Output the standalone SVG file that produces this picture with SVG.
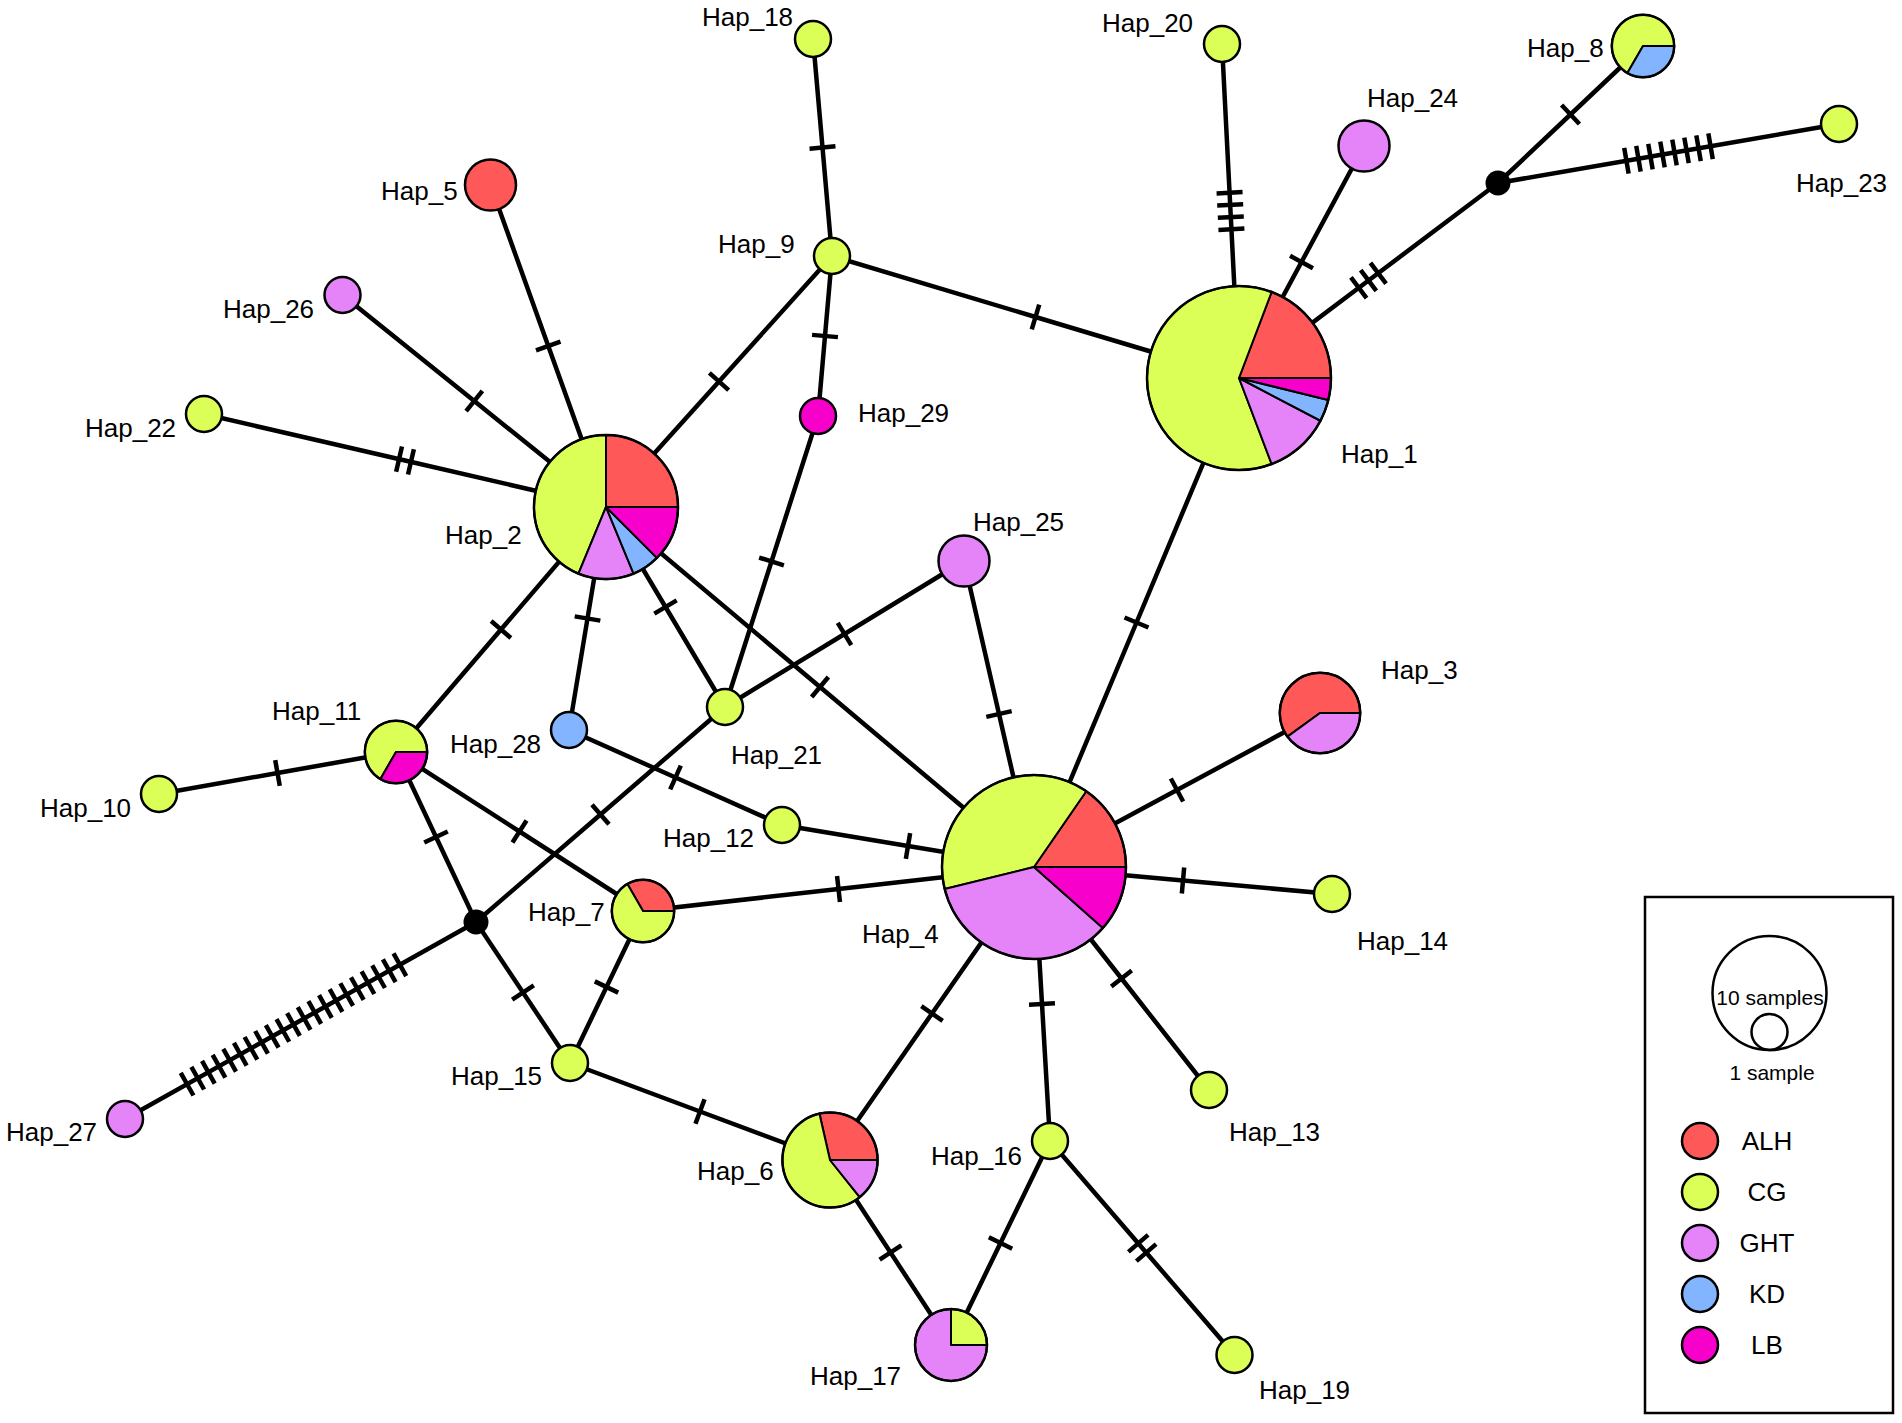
<svg xmlns="http://www.w3.org/2000/svg" width="1902" height="1423" viewBox="0 0 1902 1423">
<style>
.e{fill:none;stroke:#000;stroke-width:4.5;stroke-linecap:round}
.m1{marker-mid:url(#t1)}.m2{marker-mid:url(#t2)}.m3{marker-mid:url(#t3)}.m4{marker-mid:url(#t4)}.m8{marker-mid:url(#t8)}.m21{marker-mid:url(#t21)}
.n{stroke:#000;stroke-width:2.5}
.w{stroke:#000;stroke-width:2;stroke-linejoin:round}
.o{fill:none;stroke:#000;stroke-width:2.5}
.alh{fill:#FF5858}.cg{fill:#DCFF58}.ght{fill:#E484F8}.kd{fill:#82B4FF}.lb{fill:#F800CC}.mv{fill:#000}
.t{font-family:"Liberation Sans",Arial,sans-serif;font-size:26px;fill:#000}
.s{font-family:"Liberation Sans",Arial,sans-serif;font-size:21px;fill:#000;text-anchor:middle}
.lg{text-anchor:middle}
</style>
<defs>
<marker id="t1" markerUnits="userSpaceOnUse" viewBox="-150 -20 300 40" markerWidth="300" markerHeight="40" refX="0" refY="0" orient="auto"><path d="M0,-13V13" stroke="#000" stroke-width="4.5" fill="none"/></marker>
<marker id="t2" markerUnits="userSpaceOnUse" viewBox="-150 -20 300 40" markerWidth="300" markerHeight="40" refX="0" refY="0" orient="auto"><path d="M-6.1,-13V13M6.1,-13V13" stroke="#000" stroke-width="4.5" fill="none"/></marker>
<marker id="t3" markerUnits="userSpaceOnUse" viewBox="-150 -20 300 40" markerWidth="300" markerHeight="40" refX="0" refY="0" orient="auto"><path d="M-12.2,-13V13M0,-13V13M12.2,-13V13" stroke="#000" stroke-width="4.5" fill="none"/></marker>
<marker id="t4" markerUnits="userSpaceOnUse" viewBox="-150 -20 300 40" markerWidth="300" markerHeight="40" refX="0" refY="0" orient="auto"><path d="M-18.3,-13V13M-6.1,-13V13M6.1,-13V13M18.3,-13V13" stroke="#000" stroke-width="4.5" fill="none"/></marker>
<marker id="t8" markerUnits="userSpaceOnUse" viewBox="-150 -20 300 40" markerWidth="300" markerHeight="40" refX="0" refY="0" orient="auto"><path d="M-42.7,-13V13M-30.5,-13V13M-18.3,-13V13M-6.1,-13V13M6.1,-13V13M18.3,-13V13M30.5,-13V13M42.7,-13V13" stroke="#000" stroke-width="4.5" fill="none"/></marker>
<marker id="t21" markerUnits="userSpaceOnUse" viewBox="-150 -20 300 40" markerWidth="300" markerHeight="40" refX="0" refY="0" orient="auto"><path d="M-122,-13V13M-109.8,-13V13M-97.6,-13V13M-85.4,-13V13M-73.2,-13V13M-61,-13V13M-48.8,-13V13M-36.6,-13V13M-24.4,-13V13M-12.2,-13V13M0,-13V13M12.2,-13V13M24.4,-13V13M36.6,-13V13M48.8,-13V13M61,-13V13M73.2,-13V13M85.4,-13V13M97.6,-13V13M109.8,-13V13M122,-13V13" stroke="#000" stroke-width="4.5" fill="none"/></marker>
</defs>
<rect width="1902" height="1423" fill="#fff"/>
<g id="connectors">
<path class="e m1" d="M813,39 L822.5,147.5 L832,256"/>
<path class="e m1" d="M832,256 L1035.5,317 L1239,378"/>
<path class="e m1" d="M832,256 L719,381.5 L606,507"/>
<path class="e m1" d="M832,256 L825,336 L818,416"/>
<path class="e m1" d="M818,416 L771.5,561.5 L725,707"/>
<path class="e m4" d="M1222,44 L1230.5,211 L1239,378"/>
<path class="e m1" d="M1364,146 L1301.5,262 L1239,378"/>
<path class="e m3" d="M1239,378 L1368.5,280.5 L1498,183"/>
<path class="e m1" d="M1498,183 L1570.5,114.5 L1643,46"/>
<path class="e m8" d="M1498,183 L1668.5,153.5 L1839,124"/>
<path class="e m1" d="M1239,378 L1136.5,622.5 L1034,867"/>
<path class="e m1" d="M490.5,185 L548.25,346 L606,507"/>
<path class="e m1" d="M342.5,295 L474.25,401 L606,507"/>
<path class="e m2" d="M204,414 L405,460.5 L606,507"/>
<path class="e m1" d="M606,507 L501,629.5 L396,752"/>
<path class="e m1" d="M606,507 L587.5,618.5 L569,730"/>
<path class="e m1" d="M606,507 L665.5,607 L725,707"/>
<path class="e m1" d="M606,507 L820,687 L1034,867"/>
<path class="e m1" d="M569,730 L675.5,777.5 L782,825"/>
<path class="e m1" d="M782,825 L908,846 L1034,867"/>
<path class="e m1" d="M725,707 L844.5,634 L964,561"/>
<path class="e m1" d="M725,707 L600.5,814.5 L476,922"/>
<path class="e m1" d="M964,561 L999,714 L1034,867"/>
<path class="e m1" d="M396,752 L277.5,773 L159,794"/>
<path class="e m1" d="M396,752 L436,837 L476,922"/>
<path class="e m1" d="M396,752 L519.5,831.5 L643,911"/>
<path class="e m1" d="M643,911 L838.5,889 L1034,867"/>
<path class="e m1" d="M643,911 L606.5,987 L570,1063"/>
<path class="e m1" d="M476,922 L523,992.5 L570,1063"/>
<path class="e m21" d="M476,922 L293.48,1024.44 L125,1119"/>
<path class="e m1" d="M570,1063 L700,1111.5 L830,1160"/>
<path class="e m1" d="M1034,867 L932,1013.5 L830,1160"/>
<path class="e m1" d="M1034,867 L1042,1004 L1050,1141"/>
<path class="e m1" d="M1034,867 L1121.5,978.5 L1209,1090"/>
<path class="e m1" d="M1034,867 L1177,790 L1320,713"/>
<path class="e m1" d="M1034,867 L1183,880.5 L1332,894"/>
<path class="e m1" d="M830,1160 L890.5,1252.5 L951,1345"/>
<path class="e m1" d="M1050,1141 L1000.5,1243 L951,1345"/>
<path class="e m2" d="M1050,1141 L1142.25,1248 L1234.5,1355"/>
</g>
<g id="Hap_1">
<path class="w alh" d="M1239,378 L1331,378 A92,92 0 0 0 1271.62,291.98 Z"/>
<path class="w cg" d="M1239,378 L1271.62,291.98 A92,92 0 1 0 1271.62,464.02 Z"/>
<path class="w ght" d="M1239,378 L1271.62,464.02 A92,92 0 0 0 1320.47,420.75 Z"/>
<path class="w kd" d="M1239,378 L1320.47,420.75 A92,92 0 0 0 1328.32,400.02 Z"/>
<path class="w lb" d="M1239,378 L1328.32,400.02 A92,92 0 0 0 1331,378 Z"/>
<circle class="o" cx="1239" cy="378" r="92"/>
<text class="t" x="1341" y="463">Hap_1</text>
</g>
<g id="Hap_2">
<path class="w alh" d="M606,507 L678,507 A72,72 0 0 0 606,435 Z"/>
<path class="w cg" d="M606,507 L606,435 A72,72 0 0 0 578.45,573.52 Z"/>
<path class="w ght" d="M606,507 L578.45,573.52 A72,72 0 0 0 633.55,573.52 Z"/>
<path class="w kd" d="M606,507 L633.55,573.52 A72,72 0 0 0 656.91,557.91 Z"/>
<path class="w lb" d="M606,507 L656.91,557.91 A72,72 0 0 0 678,507 Z"/>
<circle class="o" cx="606" cy="507" r="72"/>
<text class="t" x="445" y="544">Hap_2</text>
</g>
<g id="Hap_3">
<path class="w alh" d="M1320,713 L1360.25,713 A40.25,40.25 0 1 0 1287.44,736.66 Z"/>
<path class="w ght" d="M1320,713 L1287.44,736.66 A40.25,40.25 0 0 0 1360.25,713 Z"/>
<circle class="o" cx="1320" cy="713" r="40.25"/>
<text class="t" x="1381" y="679">Hap_3</text>
</g>
<g id="Hap_4">
<path class="w alh" d="M1034,867 L1126,867 A92,92 0 0 0 1086.27,791.28 Z"/>
<path class="w cg" d="M1034,867 L1086.27,791.28 A92,92 0 0 0 944.68,889.02 Z"/>
<path class="w ght" d="M1034,867 L944.68,889.02 A92,92 0 0 0 1102.86,928.01 Z"/>
<path class="w lb" d="M1034,867 L1102.86,928.01 A92,92 0 0 0 1126,867 Z"/>
<circle class="o" cx="1034" cy="867" r="92"/>
<text class="t" x="862" y="943">Hap_4</text>
</g>
<g id="Hap_5"><circle class="n alh" cx="490.5" cy="185" r="25.5"/><text class="t" x="381" y="200">Hap_5</text></g>
<g id="Hap_6">
<path class="w alh" d="M830,1160 L877.6,1160 A47.6,47.6 0 0 0 819.41,1113.59 Z"/>
<path class="w cg" d="M830,1160 L819.41,1113.59 A47.6,47.6 0 1 0 859.68,1197.21 Z"/>
<path class="w ght" d="M830,1160 L859.68,1197.21 A47.6,47.6 0 0 0 877.6,1160 Z"/>
<circle class="o" cx="830" cy="1160" r="47.6"/>
<text class="t" x="697" y="1180">Hap_6</text>
</g>
<g id="Hap_7">
<path class="w alh" d="M643,911 L674.2,911 A31.2,31.2 0 0 0 627.4,883.98 Z"/>
<path class="w cg" d="M643,911 L627.4,883.98 A31.2,31.2 0 1 0 674.2,911 Z"/>
<circle class="o" cx="643" cy="911" r="31.2"/>
<text class="t" x="528" y="921">Hap_7</text>
</g>
<g id="Hap_8">
<path class="w cg" d="M1643,46 L1674.2,46 A31.2,31.2 0 1 0 1627.4,73.02 Z"/>
<path class="w kd" d="M1643,46 L1627.4,73.02 A31.2,31.2 0 0 0 1674.2,46 Z"/>
<circle class="o" cx="1643" cy="46" r="31.2"/>
<text class="t" x="1527" y="57">Hap_8</text>
</g>
<g id="Hap_9"><circle class="n cg" cx="832" cy="256" r="18"/><text class="t" x="718" y="253">Hap_9</text></g>
<g id="Hap_10"><circle class="n cg" cx="159" cy="794" r="18"/><text class="t" x="40" y="817">Hap_10</text></g>
<g id="Hap_11">
<path class="w cg" d="M396,752 L427.2,752 A31.2,31.2 0 1 0 380.4,779.02 Z"/>
<path class="w lb" d="M396,752 L380.4,779.02 A31.2,31.2 0 0 0 427.2,752 Z"/>
<circle class="o" cx="396" cy="752" r="31.2"/>
<text class="t" x="272" y="720">Hap_11</text>
</g>
<g id="Hap_12"><circle class="n cg" cx="782" cy="825" r="18"/><text class="t" x="663" y="847">Hap_12</text></g>
<g id="Hap_13"><circle class="n cg" cx="1209" cy="1090" r="18"/><text class="t" x="1229" y="1141">Hap_13</text></g>
<g id="Hap_14"><circle class="n cg" cx="1332" cy="894" r="18"/><text class="t" x="1357" y="950">Hap_14</text></g>
<g id="Hap_15"><circle class="n cg" cx="570" cy="1063" r="18"/><text class="t" x="451" y="1085">Hap_15</text></g>
<g id="Hap_16"><circle class="n cg" cx="1050" cy="1141" r="18"/><text class="t" x="931" y="1165">Hap_16</text></g>
<g id="Hap_17">
<path class="w cg" d="M951,1345 L987,1345 A36,36 0 0 0 951,1309 Z"/>
<path class="w ght" d="M951,1345 L951,1309 A36,36 0 1 0 987,1345 Z"/>
<circle class="o" cx="951" cy="1345" r="36"/>
<text class="t" x="810" y="1385">Hap_17</text>
</g>
<g id="Hap_18"><circle class="n cg" cx="813" cy="39" r="18"/><text class="t" x="702" y="26">Hap_18</text></g>
<g id="Hap_19"><circle class="n cg" cx="1234.5" cy="1355" r="18"/><text class="t" x="1259" y="1399">Hap_19</text></g>
<g id="Hap_20"><circle class="n cg" cx="1222" cy="44" r="18"/><text class="t" x="1102" y="32">Hap_20</text></g>
<g id="Hap_21"><circle class="n cg" cx="725" cy="707" r="18"/><text class="t" x="731" y="764">Hap_21</text></g>
<g id="Hap_22"><circle class="n cg" cx="204" cy="414" r="18"/><text class="t" x="85" y="437">Hap_22</text></g>
<g id="Hap_23"><circle class="n cg" cx="1839" cy="124" r="18"/><text class="t" x="1796" y="192">Hap_23</text></g>
<g id="Hap_24"><circle class="n ght" cx="1364" cy="146" r="25.5"/><text class="t" x="1367" y="107">Hap_24</text></g>
<g id="Hap_25"><circle class="n ght" cx="964" cy="561" r="25.5"/><text class="t" x="973" y="531">Hap_25</text></g>
<g id="Hap_26"><circle class="n ght" cx="342.5" cy="295" r="18"/><text class="t" x="223" y="318">Hap_26</text></g>
<g id="Hap_27"><circle class="n ght" cx="125" cy="1119" r="18"/><text class="t" x="6" y="1141">Hap_27</text></g>
<g id="Hap_28"><circle class="n kd" cx="569" cy="730" r="18"/><text class="t" x="450" y="753">Hap_28</text></g>
<g id="Hap_29"><circle class="n lb" cx="818" cy="416" r="18"/><text class="t" x="858" y="422">Hap_29</text></g>
<g id="median_1"><circle class="mv" cx="1498" cy="183" r="12.5"/></g>
<g id="median_2"><circle class="mv" cx="476" cy="922" r="12.5"/></g>
<g id="legend">
<rect x="1645" y="897" width="248" height="516" fill="none" stroke="#000" stroke-width="2.5"/>
<circle class="o" cx="1769.5" cy="993" r="57"/>
<circle class="o" cx="1769.5" cy="1032" r="18"/>
<text class="s" x="1770" y="1005">10 samples</text>
<text class="s" x="1772" y="1080">1 sample</text>
<circle class="n alh" cx="1700" cy="1141" r="18"/><text class="t lg" x="1767" y="1150">ALH</text>
<circle class="n cg" cx="1700" cy="1192" r="18"/><text class="t lg" x="1767" y="1201">CG</text>
<circle class="n ght" cx="1700" cy="1243" r="18"/><text class="t lg" x="1767" y="1252">GHT</text>
<circle class="n kd" cx="1700" cy="1294" r="18"/><text class="t lg" x="1767" y="1303">KD</text>
<circle class="n lb" cx="1700" cy="1345" r="18"/><text class="t lg" x="1767" y="1354">LB</text>
</g>
</svg>
